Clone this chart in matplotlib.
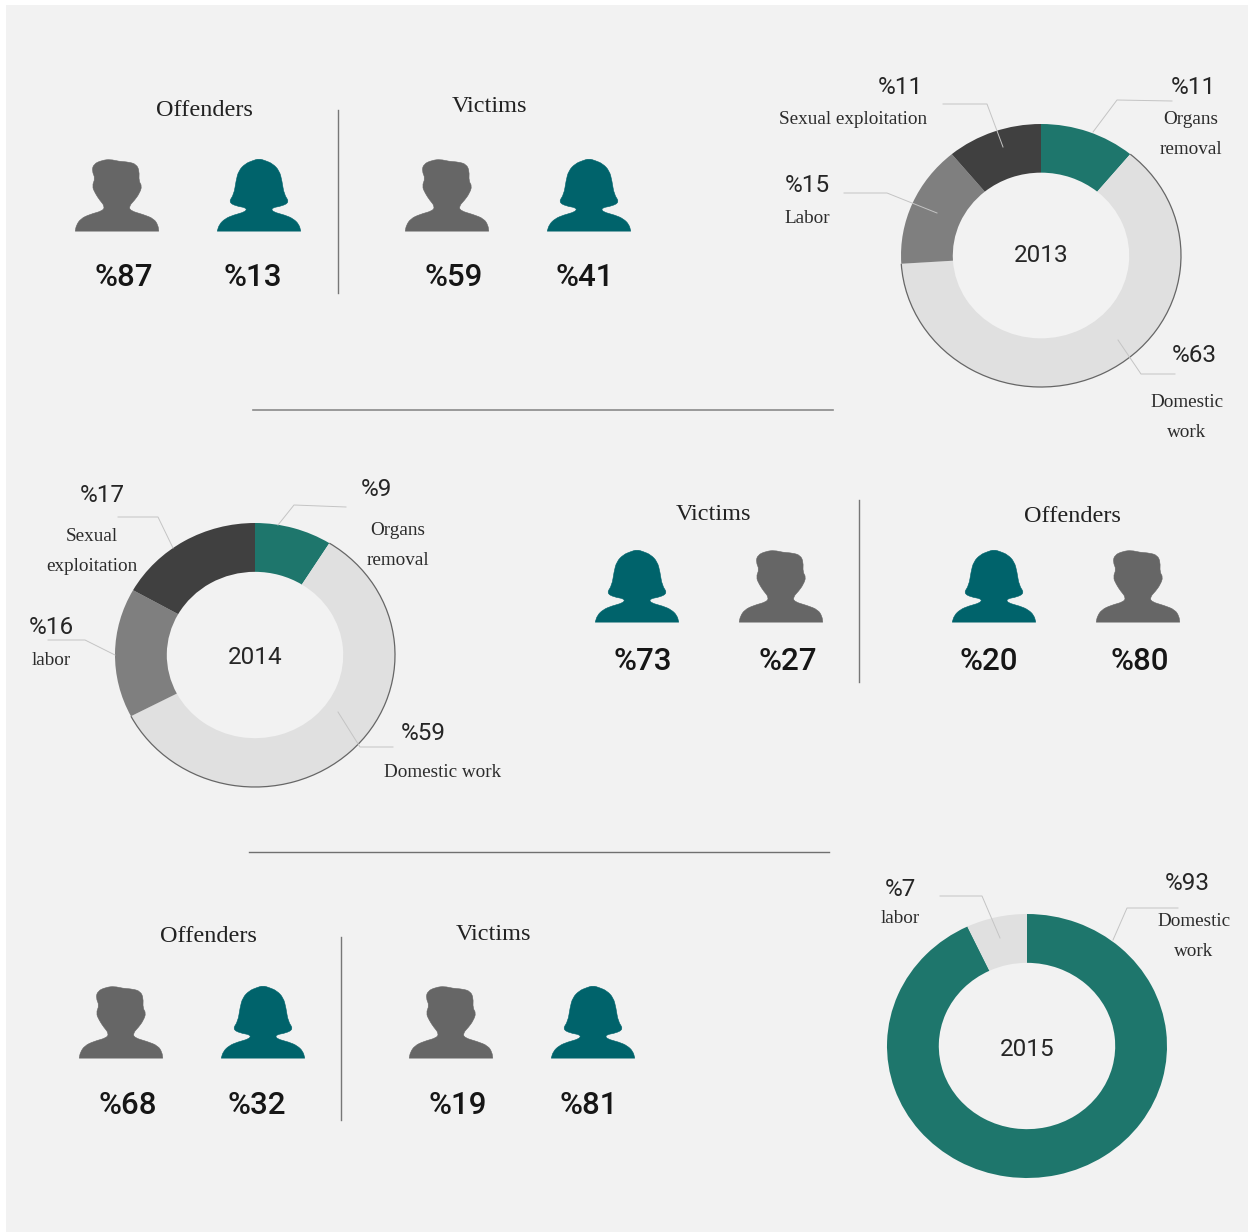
import matplotlib
matplotlib.use('Agg')
import matplotlib.pyplot as plt
from matplotlib.patches import Arc, PathPatch, Rectangle
from matplotlib.path import Path

W, H = 1249, 1232

# shares by year, clockwise from the top
shares_2013 = [11, 63, 15, 11]
shares_2014 = [9, 59, 16, 17]
shares_2015 = [93, 7]
colors_4 = ['#1e766c', '#e0e0e0', '#7f7f7f', '#404040']
colors_2 = ['#1e766c', '#e0e0e0']

# gender shares, [male, female]
offenders_2013 = [87, 13]
victims_2013 = [59, 41]
victims_2014 = [27, 73]
offenders_2014 = [80, 20]
offenders_2015 = [68, 32]
victims_2015 = [19, 81]

MALE = '#666666'
FEMALE = '#00636b'
SERIF = 'Liberation Serif'
NUM = 'Roboto'

# icon outlines, 250 wide and 213 high (corners doubled to stay sharp)
male_shape = [(0,213),(0,213),(3,196),(16,176),(43,163),(83,152),(88,138),(73,120),(60,100),(50,78),(60,55),
              (50,33),(55,12),(80,1),(105,-2),(130,4),(160,6),(183,13),(192,33),(190,63),(200,78),
              (192,100),(178,120),(161,138),(165,152),(203,163),(236,176),(248,196),(250,213),(250,213)]
female_shape = [(0,213),(0,213),(6,193),(23,176),(48,165),(85,155),(88,143),(56,138),(34,126),(50,103),(56,63),
                (64,32),(84,11),(106,2),(125,-4),(144,2),(166,11),(186,32),(194,63),(200,103),(216,126),
                (194,138),(163,143),(165,155),(203,165),(228,176),(245,193),(250,213),(250,213)]

fig = plt.figure(figsize=(W/100, H/100), dpi=100, facecolor='white')
fig.add_artist(Rectangle((6/W, 0), 1242/W, 1-5/H, transform=fig.transFigure, fc='#f2f2f2', ec='none'))


def donut(cx, cy, ry, values, colors, outline=None):
    rx = 140
    ax = fig.add_axes([(cx-rx)/W, 1-(cy+ry)/H, 2*rx/W, 2*ry/H], zorder=1)
    ax.patch.set_visible(False)
    wedges, _ = ax.pie(values, colors=colors, startangle=90, counterclock=False, radius=1,
                       wedgeprops=dict(width=0.37, linewidth=0))
    ax.set_aspect('auto')
    ax.set_xlim(-1, 1)
    ax.set_ylim(-1, 1)
    if outline is not None:
        w = wedges[outline]
        ax.add_patch(Arc((0, 0), 2, 2, theta1=w.theta1, theta2=w.theta2, color='#666666', lw=0.9, clip_on=False))
    return ax


donut(1041, 255.5, 131.5, shares_2013, colors_4, outline=1)
donut(255, 655, 132, shares_2014, colors_4, outline=1)
donut(1027, 1046, 132, shares_2015, colors_2)

# overlay in pixel coordinates
ov = fig.add_axes([0, 0, 1, 1], zorder=5)
ov.set_xlim(0, W)
ov.set_ylim(H, 0)
ov.axis('off')


def person(x, top, shape, color):
    scale = 83.5/250
    pts = [(x-41.75+a*scale, top+b*scale) for a, b in shape]
    # smooth outline: points become quadratic controls, midpoints lie on the curve
    n = len(pts)
    mid = [((pts[i][0]+pts[(i+1) % n][0])/2, (pts[i][1]+pts[(i+1) % n][1])/2) for i in range(n)]
    verts = [mid[-1]]
    codes = [Path.MOVETO]
    for i in range(n):
        verts += [pts[i], mid[i]]
        codes += [Path.CURVE3, Path.CURVE3]
    ov.add_patch(PathPatch(Path(verts, codes), fc=color, ec=color, lw=0.4))


def title(x, y, s):
    ov.text(x, y+2, s, family=SERIF, fontsize=17.5, color='#222222', ha='center', va='center')


def big(x, y, v):
    ov.text(x, y+2, '%' + str(v), family=NUM, fontsize=22.5, fontweight='medium', color='#161616',
            ha='center', va='center')


def small(x, y, s):
    ov.text(x, y+1, s, family=NUM, fontsize=17.5, color='#262626', ha='center', va='center')


def label(x, y, s):
    ov.text(x, y+1.5, s, family=SERIF, fontsize=13.8, color='#2c2c2c', ha='center', va='center')


def leader(xs, ys, color='#c4c4c4'):
    ov.plot(xs, ys, color=color, lw=0.7)


# top panel
title(204, 108, 'Offenders')
person(117, 160, male_shape, MALE)
person(259, 160, female_shape, FEMALE)
big(124, 276, offenders_2013[0])
big(253, 276, offenders_2013[1])
ov.plot([338, 338], [110, 293], color='#777777', lw=1)
title(489, 105, 'Victims')
person(447, 160, male_shape, MALE)
person(589, 160, female_shape, FEMALE)
big(454, 276, victims_2013[0])
big(585, 276, victims_2013[1])

# middle panel
title(713, 512, 'Victims')
person(637, 551, female_shape, FEMALE)
person(781, 551, male_shape, MALE)
big(643, 660, victims_2014[1])
big(788, 660, victims_2014[0])
ov.plot([859, 859], [500, 682], color='#777777', lw=1)
title(1072, 514, 'Offenders')
person(994, 551, female_shape, FEMALE)
person(1138, 551, male_shape, MALE)
big(989, 660, offenders_2014[1])
big(1140, 660, offenders_2014[0])

# bottom panel
title(208, 935, 'Offenders')
person(121, 987, male_shape, MALE)
person(263, 987, female_shape, FEMALE)
big(128, 1103, offenders_2015[0])
big(257, 1103, offenders_2015[1])
ov.plot([341.5, 341.5], [937, 1120], color='#777777', lw=1)
title(493, 932, 'Victims')
person(451, 987, male_shape, MALE)
person(593, 987, female_shape, FEMALE)
big(458, 1103, victims_2015[0])
big(589, 1103, victims_2015[1])

# rules between panels
ov.plot([253, 833], [409.5, 409.5], color='#8a8a8a', lw=1.2)
ov.plot([249, 829], [852, 852], color='#707070', lw=1)

# 2013 labels
small(1041, 254, '2013')
small(900, 86, '%11')
label(853, 118, 'Sexual exploitation')
small(1193, 86, '%11')
label(1191, 118, 'Organs')
label(1191, 148, 'removal')
small(807, 185, '%15')
label(807, 217, 'Labor')
small(1194, 355, '%63')
label(1187, 401, 'Domestic')
label(1187, 431, 'work')
leader([943, 987, 1003], [104, 104, 147])
leader([1172, 1117, 1093], [101, 100, 132])
leader([844, 887, 937], [193, 193, 213])
leader([1175, 1141, 1118], [374, 374, 340])

# 2014 labels
small(255, 657, '2014')
small(102, 494, '%17')
label(92, 535, 'Sexual')
label(92, 565, 'exploitation')
small(376, 488, '%9')
label(398, 529, 'Organs')
label(398, 559, 'removal')
small(51, 627, '%16')
label(51, 659, 'labor')
small(423, 732, '%59')
label(443, 771, 'Domestic work')
leader([118, 158, 173], [517, 517, 548])
leader([346, 294, 278], [507, 505, 525])
leader([48, 85, 115], [640, 640, 655])
leader([393, 360, 338], [747, 747, 712])

# 2015 labels
small(1027, 1048, '2015')
small(900, 888, '%7')
label(900, 917, 'labor')
small(1187, 882, '%93')
label(1194, 920, 'Domestic')
label(1194, 950, 'work')
leader([940, 982, 1000], [896, 896, 938])
leader([1178, 1127, 1113], [908, 908, 940])

fig.savefig('out.png', dpi=100, facecolor='white')
